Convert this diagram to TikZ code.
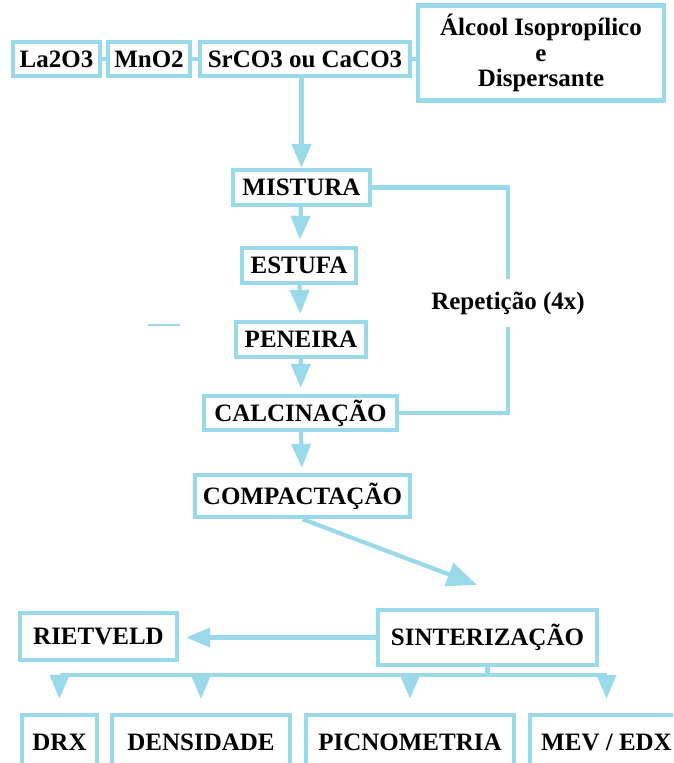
\documentclass[tikz,border=0pt]{standalone}
\usepackage{fontspec}
\setmainfont{Liberation Serif}
\usetikzlibrary{arrows.meta}
\definecolor{lblue}{RGB}{153,217,234}
\tikzset{
  box/.style={draw=lblue, line width=4.2pt, fill=white, inner sep=0pt, align=center},
  link/.style={draw=lblue, line width=4.2pt},
  arr/.style={link, -{Triangle[length=24pt,width=19pt]}},
}
\begin{document}
\begin{tikzpicture}[x=1pt,y=-1pt,font=\fontsize{25}{25.5}\selectfont\bfseries]
\clip (0,0) rectangle (673,763);
% raw materials
\node[box, minimum width=87, minimum height=34] (la) at (56.5,59) {La2O3};
\node[box, minimum width=82, minimum height=34] (mn) at (149,59) {MnO2};
\node[box, minimum width=210, minimum height=34] (sr) at (305,59) {SrCO3 ou CaCO3};
\node[box, minimum width=246, minimum height=95] (alc) at (541,53) {Álcool Isopropílico\\e\\Dispersante};
\draw[link] (la.east) -- (mn.west);
\draw[link] (mn.east) -- (sr.west);
\draw[link] (sr.east) -- (sr.east -| alc.west);
% process steps
\node[box, minimum width=137, minimum height=35] (mis) at (301.5,187.5) {MISTURA};
\node[box, minimum width=114, minimum height=35] (est) at (299,265.5) {ESTUFA};
\node[box, minimum width=130, minimum height=35] (pen) at (301,339.5) {PENEIRA};
\node[box, minimum width=193, minimum height=34] (cal) at (300.5,413) {CALCINAÇÃO};
\node[box, minimum width=215, minimum height=42] (com) at (302.5,496) {COMPACTAÇÃO};
\node[box, minimum width=219, minimum height=55] (sin) at (487.5,637.5) {SINTERIZAÇÃO};
\node[box, minimum width=157, minimum height=47] (riet) at (98.5,636.5) {RIETVELD};
\draw[arr] (sr.south -| mis.north) -- (mis.north);
\draw[arr, shorten >=6pt] (mis) -- (est);
\draw[arr, shorten >=6pt] (est) -- (pen);
\draw[arr, shorten >=6pt] (pen) -- (cal);
\draw[arr, shorten >=5pt] (cal) -- (com);
% repetition loop
\node[inner xsep=0pt, inner ysep=12pt] (rep) at (508,303) {Repetição (4x)};
\draw[link] (mis.east) -| (rep.north);
\draw[link] (rep.south) |- (cal.east);
\draw[lblue, line width=1.2pt] (148,325) -- (180,325);
% sintering
\coordinate (csin) at (477,585);
\draw[arr, -{Triangle[length=30pt,width=24pt]}] (com.south) -- (csin);
\draw[arr, shorten >=7pt] (sin.west) -- (sin.west -| riet.east);
% characterisation
\node[box, minimum width=75, minimum height=54] (drx) at (59.5,742) {DRX};
\node[box, minimum width=178, minimum height=54] (den) at (201,742) {DENSIDADE};
\node[box, minimum width=208, minimum height=54] (pic) at (410,742) {PICNOMETRIA};
\node[box, minimum width=153, minimum height=54] (mev) at (606.5,742) {MEV / EDX};
\path (sin.south) ++(0,8) coordinate (bus);
\draw[link] (sin.south) -- (bus);
\draw[link] (bus -| drx) -- (bus -| mev);
\foreach \n in {drx,den,pic,mev}
  \draw[arr, shorten >=14pt] (bus -| \n) -- (\n.north);
\end{tikzpicture}
\end{document}
